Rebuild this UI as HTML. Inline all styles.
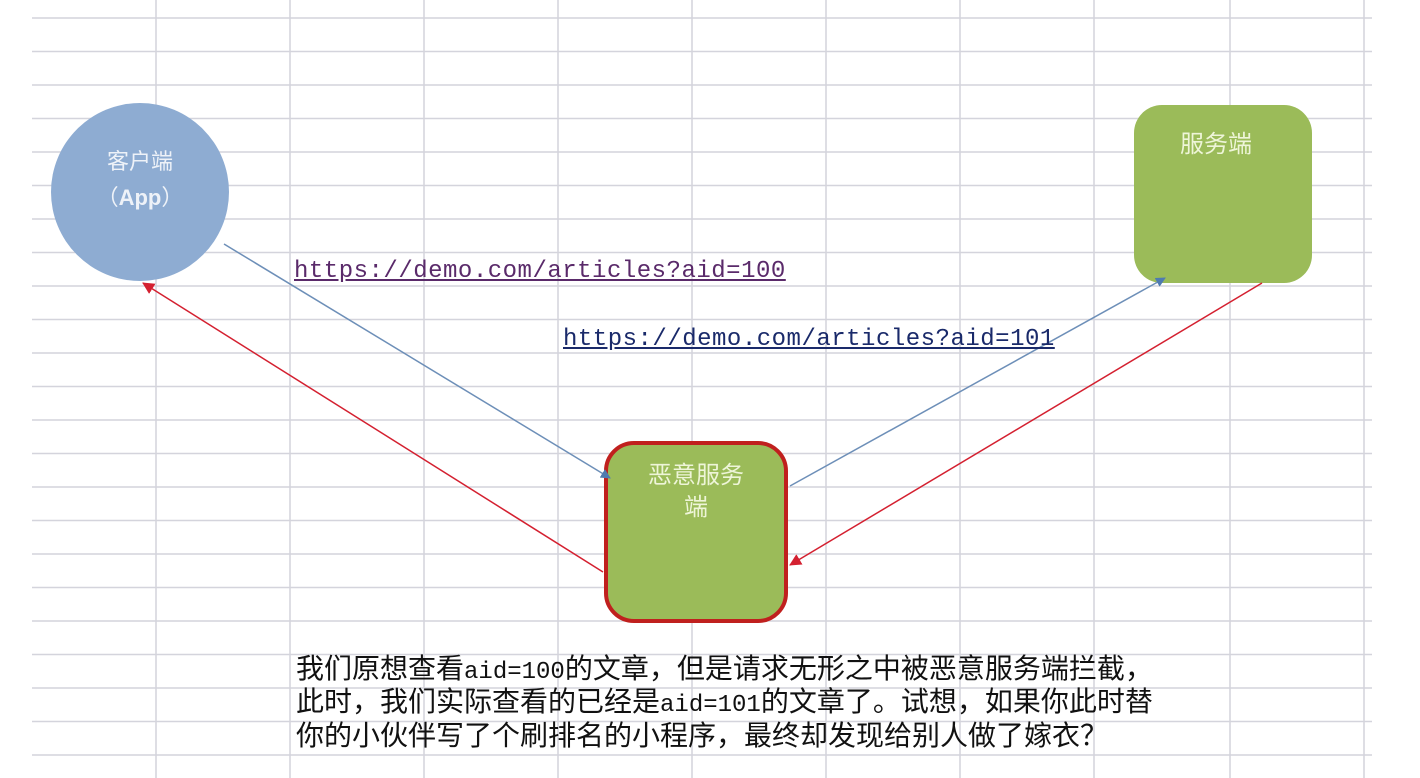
<!DOCTYPE html>
<html><head><meta charset="utf-8"><style>
body{margin:0;width:1420px;height:778px;background:#fff;position:relative;overflow:hidden;font-family:"Liberation Sans","Noto Sans CJK SC",sans-serif}
.t{position:absolute;white-space:nowrap}
.m{font-family:"Liberation Mono","Noto Serif CJK SC",monospace;letter-spacing:0.5px}
.b{position:absolute;left:296px;font-size:28px;color:#111;font-family:"Noto Sans CJK SC",sans-serif;white-space:nowrap;line-height:33px}
.b span{font-family:"Liberation Mono",monospace;font-size:24px}
</style></head><body>
<svg width="1420" height="778" style="position:absolute;left:0;top:0">
<g stroke="#d4d4dc" stroke-width="1.5">
<line x1="32" y1="18" x2="1372" y2="18"/><line x1="32" y1="51.5" x2="1372" y2="51.5"/><line x1="32" y1="85" x2="1372" y2="85"/><line x1="32" y1="118.5" x2="1372" y2="118.5"/><line x1="32" y1="152" x2="1372" y2="152"/><line x1="32" y1="185.5" x2="1372" y2="185.5"/><line x1="32" y1="219" x2="1372" y2="219"/><line x1="32" y1="252.5" x2="1372" y2="252.5"/><line x1="32" y1="286" x2="1372" y2="286"/><line x1="32" y1="319.5" x2="1372" y2="319.5"/><line x1="32" y1="353" x2="1372" y2="353"/><line x1="32" y1="386.5" x2="1372" y2="386.5"/><line x1="32" y1="420" x2="1372" y2="420"/><line x1="32" y1="453.5" x2="1372" y2="453.5"/><line x1="32" y1="487" x2="1372" y2="487"/><line x1="32" y1="520.5" x2="1372" y2="520.5"/><line x1="32" y1="554" x2="1372" y2="554"/><line x1="32" y1="587.5" x2="1372" y2="587.5"/><line x1="32" y1="621" x2="1372" y2="621"/><line x1="32" y1="654.5" x2="1372" y2="654.5"/><line x1="32" y1="688" x2="1372" y2="688"/><line x1="32" y1="721.5" x2="1372" y2="721.5"/><line x1="32" y1="755" x2="1372" y2="755"/>
<line x1="156" y1="0" x2="156" y2="778"/><line x1="290" y1="0" x2="290" y2="778"/><line x1="424" y1="0" x2="424" y2="778"/><line x1="558" y1="0" x2="558" y2="778"/><line x1="692" y1="0" x2="692" y2="778"/><line x1="826" y1="0" x2="826" y2="778"/><line x1="960" y1="0" x2="960" y2="778"/><line x1="1094" y1="0" x2="1094" y2="778"/><line x1="1230" y1="0" x2="1230" y2="778"/><line x1="1364" y1="0" x2="1364" y2="778"/>
</g>
<defs>
<marker id="ab" markerWidth="10" markerHeight="10" refX="9" refY="5" orient="auto" markerUnits="userSpaceOnUse"><path d="M0,0L10,5L0,10z" fill="#4f7bb0"/></marker>
<marker id="ar" markerWidth="12" markerHeight="12" refX="11" refY="6" orient="auto" markerUnits="userSpaceOnUse"><path d="M0,0L12,6L0,12z" fill="#d42030"/></marker>
</defs>
<circle cx="140" cy="192" r="89" fill="#8eacd2"/>
<rect x="1134" y="105" width="178" height="178" rx="28" fill="#9bbb59"/>
<rect x="606" y="443" width="180" height="178" rx="28" fill="#9bbb59" stroke="#c0201e" stroke-width="4"/>
<line x1="224" y1="244" x2="610" y2="478" stroke="#6d8fb8" stroke-width="1.5" marker-end="url(#ab)"/>
<line x1="790" y1="486" x2="1165" y2="278" stroke="#6d8fb8" stroke-width="1.5" marker-end="url(#ab)"/>
<line x1="1262" y1="283" x2="790" y2="565" stroke="#d42030" stroke-width="1.5" marker-end="url(#ar)"/>
<line x1="603" y1="572" x2="143" y2="283" stroke="#d42030" stroke-width="1.5" marker-end="url(#ar)"/>
</svg>
<div class="t" style="left:96px;top:144px;font-size:22px;color:#eef2f8;width:88px;text-align:center">客户端</div>
<div class="t" style="left:86px;top:180px;font-size:22px;color:#eef2f8;width:108px;text-align:center">（<b>App</b>）</div>
<div class="t" style="left:1180px;top:124px;font-size:24px;color:#eef5d8">服务端</div>
<div class="t" style="left:640px;top:460px;font-size:24px;color:#eef5d8;width:112px;text-align:center;line-height:32px;white-space:normal">恶意服务端</div>
<div class="t m" style="left:294px;top:258px;font-size:24px;color:#5a2a6a;text-decoration:underline">https://demo.com/articles?aid=100</div>
<div class="t m" style="left:563px;top:326px;font-size:24px;color:#1a2a6a;text-decoration:underline">https://demo.com/articles?aid=101</div>
<div class="b" style="top:651px">我们原想查看<span>aid=100</span>的文章，但是请求无形之中被恶意服务端拦截，</div>
<div class="b" style="top:684px">此时，我们实际查看的已经是<span>aid=101</span>的文章了。试想，如果你此时替</div>
<div class="b" style="top:718px">你的小伙伴写了个刷排名的小程序，最终却发现给别人做了嫁衣？</div>
</body></html>
